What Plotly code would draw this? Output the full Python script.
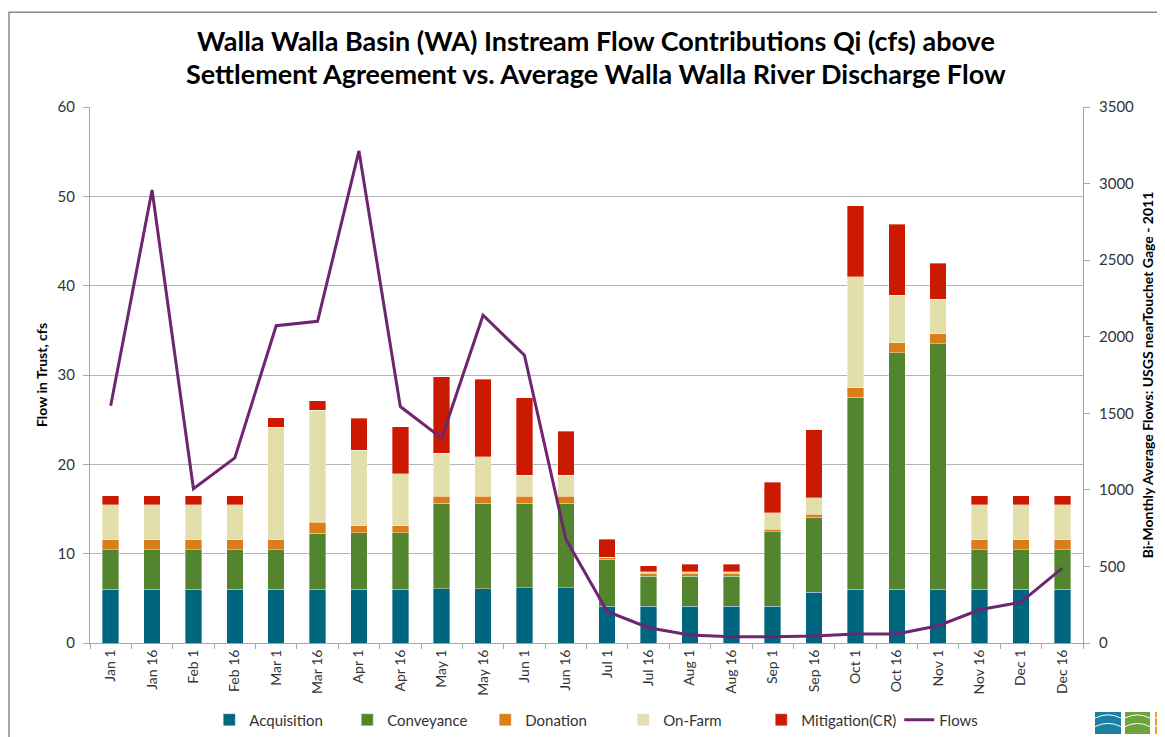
import plotly.graph_objects as go

# bi-monthly periods
periods = ["Jan 1", "Jan 16", "Feb 1", "Feb 16", "Mar 1", "Mar 16", "Apr 1", "Apr 16",
           "May 1", "May 16", "Jun 1", "Jun 16", "Jul 1", "Jul 16", "Aug 1", "Aug 16",
           "Sep 1", "Sep 16", "Oct 1", "Oct 16", "Nov 1", "Nov 16", "Dec 1", "Dec 16"]

# instream flow contributions (cfs), stacked
acquisition = [6.0, 6.0, 6.0, 6.0, 6.0, 6.0, 6.0, 6.0, 6.1, 6.1, 6.2, 6.2,
               4.1, 4.1, 4.1, 4.1, 4.1, 5.7, 6.0, 6.0, 6.0, 6.0, 6.0, 6.0]
conveyance = [4.45, 4.45, 4.45, 4.45, 4.45, 6.3, 6.35, 6.35, 9.55, 9.55, 9.45, 9.45,
              5.25, 3.35, 3.35, 3.35, 8.35, 8.4, 21.5, 26.5, 27.5, 4.45, 4.45, 4.45]
donation = [1.1, 1.1, 1.1, 1.1, 1.1, 1.2, 0.8, 0.8, 0.8, 0.8, 0.8, 0.8,
            0.25, 0.35, 0.35, 0.35, 0.3, 0.3, 1.1, 1.1, 1.1, 1.1, 1.1, 1.1]
on_farm = [3.9, 3.9, 3.9, 3.9, 12.6, 12.55, 8.4, 5.8, 4.8, 4.4, 2.35, 2.35,
           0.0, 0.2, 0.2, 0.2, 1.85, 1.85, 12.4, 5.35, 3.9, 3.9, 3.9, 3.9]
mitigation = [1.05, 1.05, 1.05, 1.05, 1.05, 1.05, 3.6, 5.25, 8.55, 8.65, 8.65, 4.9,
              2.0, 0.65, 0.8, 0.8, 3.4, 7.6, 7.95, 7.95, 4.0, 1.05, 1.05, 1.05]

# average Walla Walla River discharge (cfs), right axis
flows = [1549, 2958, 1007, 1209, 2072, 2101, 3213, 1544, 1338, 2140, 1879, 679,
         206, 100, 52, 41, 41, 46, 59, 59, 113, 217, 267, 489]

title_lines = ["Walla Walla Basin (WA) Instream Flow Contributions Qi (cfs) above",
               "Settlement Agreement vs. Average Walla Walla River Discharge Flow"]

font_main = "Lato, Open Sans, sans-serif"

fig = go.Figure()

bar_series = [
    ("Acquisition", acquisition, "#00657F"),
    ("Conveyance", conveyance, "#53852E"),
    ("Donation", donation, "#D97E1B"),
    ("On-Farm", on_farm, "#E2DFAB"),
    ("Mitigation(CR)", mitigation, "#CC1A00"),
]
for name, vals, col in bar_series:
    fig.add_trace(go.Bar(x=periods, y=vals, name=name, marker_color=col,
                         marker_line=dict(color="rgba(255,255,255,0.6)", width=0.6)))

fig.add_trace(go.Scatter(x=periods, y=flows, name="Flows", mode="lines", yaxis="y2",
                         line=dict(color="#6E2670", width=3)))

# page has an 8px body margin, margins are shifted to compensate
fig.update_layout(
    width=1165, height=737,
    barmode="stack", bargap=0.6,
    paper_bgcolor="white", plot_bgcolor="white",
    margin=dict(l=82, r=90, t=99, b=102),
    font=dict(family=font_main, size=14, color="#333333"),
    xaxis=dict(tickangle=-90, showgrid=False, ticks="outside", tickson="boundaries",
               ticklen=5, tickcolor="#A6A6A6", showline=True, linecolor="#A6A6A6",
               automargin=False, tickfont=dict(size=14, color="#333333")),
    yaxis=dict(range=[0, 60], dtick=10, showgrid=True, gridcolor="#B4B4B4", gridwidth=1,
               showline=True, linecolor="#A6A6A6", ticks="outside", ticklen=6,
               tickcolor="#A6A6A6", zeroline=False, automargin=False,
               ticklabelstandoff=5,
               tickfont=dict(size=15, color="#333333"),
               title=dict(text="Flow in Trust, cfs", standoff=6,
                          font=dict(size=14, color="black", weight="bold"))),
    yaxis2=dict(range=[0, 3500], dtick=500, overlaying="y", side="right", showgrid=False,
                showline=True, linecolor="#A6A6A6", ticks="outside", ticklen=6,
                tickcolor="#A6A6A6", zeroline=False, automargin=False,
                ticklabelstandoff=6,
                tickfont=dict(size=15, color="#333333"),
                title=dict(text="Bi-Monthly Average Flows: USGS nearTouchet Gage - 2011",
                           standoff=10, font=dict(size=14, color="black", weight="bold"))),
    legend=dict(orientation="h", x=0.537, xanchor="center",
                yref="container", y=0.0339, yanchor="middle",
                font=dict(size=15, color="#333333"), traceorder="normal",
                itemwidth=30, entrywidth=93, entrywidthmode="pixels"),
    showlegend=True,
)

# two-line title
for i, line in enumerate(title_lines):
    fig.add_annotation(text=line, xref="paper", yref="paper", x=0.5096, y=1.125 - 0.0634 * i,
                       xanchor="center", yanchor="middle", showarrow=False,
                       font=dict(family=font_main, size=27, color="black", weight="bold"))

# chart frame
fig.add_shape(type="rect", xref="paper", yref="paper", x0=-0.0816, x1=1.1, y0=-0.3, y1=1.177,
              line=dict(color="#8C8C8C", width=1.5), layer="below")

# small logo tiles in the bottom-right corner
logo_tiles = [(1.0121, 1.0383, "#1B7FA0"), (1.0423, 1.0675, "#6EA23C"), (1.0725, 1.095, "#F39A35")]
for lx0, lx1, lc in logo_tiles:
    fig.add_shape(type="rect", xref="paper", yref="paper", x0=lx0, x1=lx1, y0=-0.1698, y1=-0.1287,
                  fillcolor=lc, line=dict(width=0))
    for yy in (-0.1400, -0.1560):
        fig.add_shape(type="path", xref="paper", yref="paper",
                      path=f"M {lx0},{yy} Q {(lx0 + lx1) / 2},{yy + 0.012} {lx1},{yy}",
                      line=dict(color="white", width=1))

fig.write_html("out.html")
